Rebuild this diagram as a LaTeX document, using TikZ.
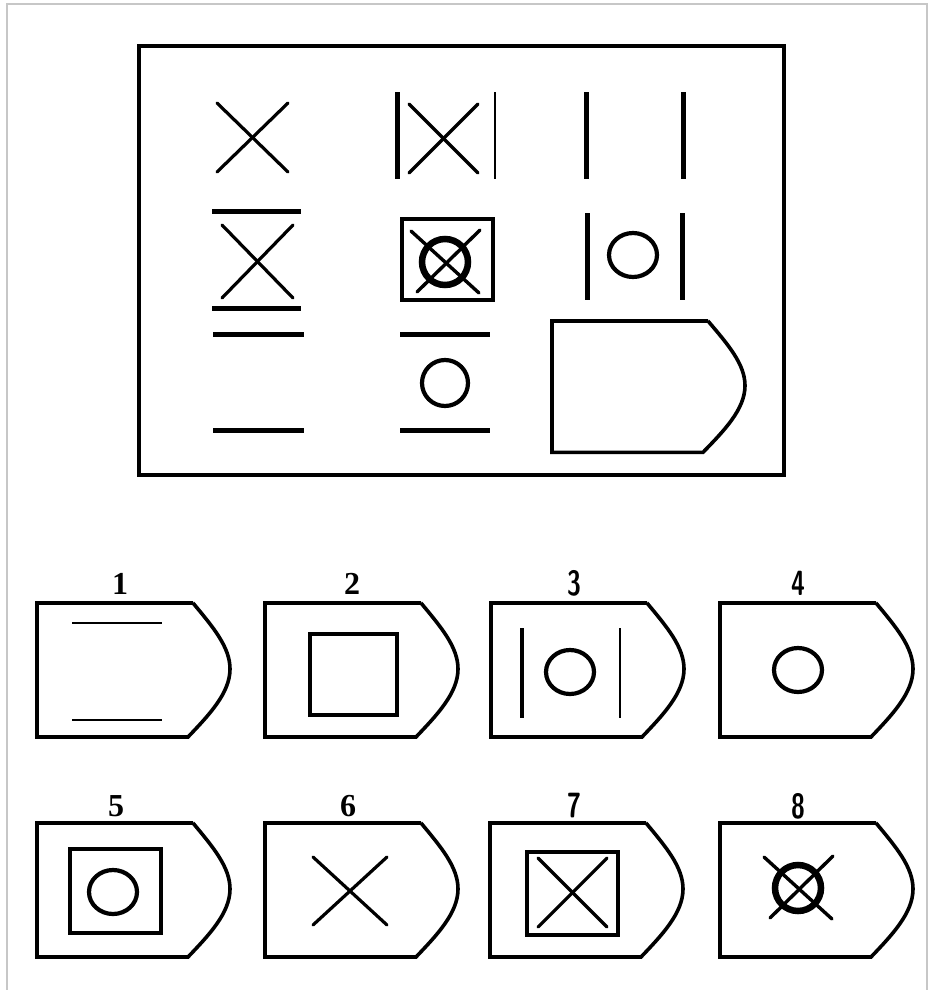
\documentclass[tikz,border=0pt]{standalone}
\usepackage{fontspec}
\setmainfont{Liberation Serif}
\usetikzlibrary{calc}

% answer slot outline, top-left corner at the pic origin
\tikzset{
    answerslot/.pic={
        \draw[line width=3.6pt, line join=miter]
            (156,0) -- (0,0) -- (0,134) -- (151,134)
            .. controls (172,112) and (193,90) .. (193,66)
            .. controls (193,44) and (176,24) .. (156,0);
    },
}
% bold ring crossed by an X
\newcommand{\crossring}[1]{%
    \draw[line width=6.5pt] #1 ellipse (23 and 23);
    \draw[stroke, line width=3.4pt] ($#1+(-34,-31)$) -- ($#1+(34,31)$);
    \draw[stroke, line width=3.4pt] ($#1+(35,-32)$) -- ($#1+(-28,30)$);
}

\begin{document}
\begin{tikzpicture}[
    x=1pt, y=-1pt,
    stroke/.style={line width=3.2pt, line cap=round},
    bar/.style={line width=5pt},
    thinbar/.style={line width=2.6pt},
    ring/.style={line width=4.2pt},
    frame/.style={line width=4pt},
    serifnum/.style={font=\fontsize{32}{32}\selectfont\bfseries, inner sep=0pt},
    sansnum/.style={font=\fontsize{35}{35}\selectfont\sffamily\bfseries, xscale=0.72, inner sep=0pt},
]
\useasboundingbox (0,0) rectangle (928,990);
% page border, open at the bottom
\draw[black!22, line width=2pt] (7,990) -- (7,4) -- (927,4) -- (927,990);

% ---- matrix ----
\draw[frame] (139,46) rectangle (784,475);
% row 1
\draw[stroke] (217,103) -- (288,172);
\draw[stroke] (288,103) -- (217,172);
\draw[bar] (397,92) -- (397,179);
\draw[thinbar] (495,92) -- (495,179);
\draw[stroke] (409,104) -- (478,173);
\draw[stroke] (478,104) -- (409,173);
\draw[bar] (586,92) -- (586,179);
\draw[bar] (683,92) -- (683,179);
% row 2
\draw[bar] (212,211) -- (301,211);
\draw[stroke] (222,225) -- (293,298);
\draw[stroke] (293,225) -- (222,298);
\draw[bar] (212,308) -- (301,308);
\draw[line width=3.6pt] (402,219) rectangle (493,300);
\crossring{(445,262)}
\draw[bar] (587,213) -- (587,300);
\draw[bar] (682,213) -- (682,300);
\draw[ring] (633,255) ellipse (24 and 22);
% row 3
\draw[bar] (213,334) -- (304,334);
\draw[bar] (213,430) -- (304,430);
\draw[bar] (400,334) -- (490,334);
\draw[ring] (445,383) ellipse (23 and 23);
\draw[bar] (400,430) -- (490,430);
\pic[yscale=0.98] at (552,321) {answerslot};

% ---- answer options ----
\foreach \px/\py in {37/603, 265/603, 491/603, 720/603, 37/823, 265/823, 490/823, 720/823}
    \pic at (\px,\py) {answerslot};
\node[serifnum] (n1) at (120,584) {1};
\node[serifnum] (n2) at (352,584) {2};
\node[sansnum]  (n3) at (574,583) {3};
\node[sansnum]  (n4) at (798,583) {4};
\node[serifnum] (n5) at (116,806) {5};
\node[serifnum] (n6) at (348,806) {6};
\node[sansnum]  (n7) at (574,806) {7};
\node[sansnum]  (n8) at (798,806) {8};
% option 1: two lines
\draw[thinbar] (72,623) -- (162,623);
\draw[line width=2pt] (72,720) -- (162,720);
% option 2: square
\draw[frame] (310,634) rectangle (397,715);
% option 3: bars and ring
\draw[line width=4pt] (522,628) -- (522,718);
\draw[line width=2.2pt] (620,628) -- (620,718);
\draw[ring] (570,672) ellipse (24 and 22);
% option 4: ring
\draw[ring] (798,670) ellipse (24 and 22);
% option 5: ring in square
\draw[line width=3.6pt] (70,849) rectangle (161,933);
\draw[ring] (113,892) ellipse (24 and 22);
% option 6: cross
\draw[stroke] (313,857) -- (387,925);
\draw[stroke] (387,857) -- (313,925);
% option 7: cross in square
\draw[line width=3.6pt] (527,852) rectangle (618,935);
\draw[stroke] (538,858) -- (607,927);
\draw[stroke] (607,858) -- (538,927);
% option 8: crossed ring
\crossring{(798,888)}
\end{tikzpicture}
\end{document}
